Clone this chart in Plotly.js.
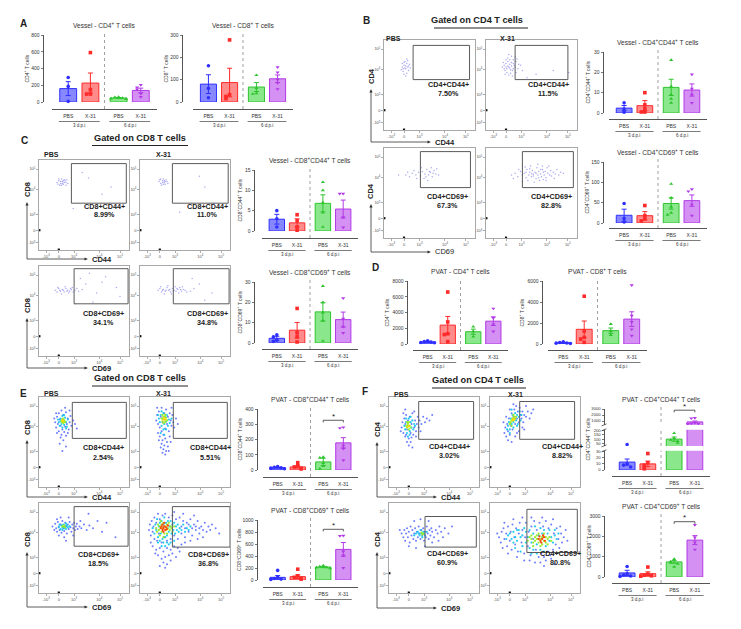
<!DOCTYPE html>
<html><head><meta charset="utf-8">
<script src="https://cdn.plot.ly/plotly-3.0.1.min.js"></script>
<style>html,body{margin:0;padding:0;background:#fff}#chart{width:741px;height:629px}</style>
</head><body><div id="chart"></div>
<script>
// ---------------- DATA ----------------
const GROUP_TICKS = ['PBS','X-31','PBS','X-31'];
const DPI_LABELS = ['3 d.p.i','6 d.p.i'];
const FLOW_TICK_TEXT = ['-10<sup>3</sup>','0','10<sup>3</sup>','10<sup>4</sup>','10<sup>5</sup>'];

// bar charts: mean, SEM and individual animals per group (PBS 3d, X-31 3d, PBS 6d, X-31 6d)
const vesselCD4_mean=[160,226,48,138], vesselCD4_sem=[83,120,6,28];
const vesselCD4_pts=[[293,186,8],[590,147,95,95],[60,55,48,42,35],[205,175,150,100,60]];
const vesselCD8_mean=[80,87,67,104], vesselCD8_sem=[42,64,20,17];
const vesselCD8_pts=[[162,61,19],[278,33,25,15],[120,62,39,36],[156,132,100,85,58]];
const vesselCD4CD44_mean=[2.4,3.6,12.6,11.3], vesselCD4CD44_sem=[1.3,2.5,4,3];
const vesselCD4CD44_pts=[[5,2,0.4],[10,4,2,0.5,0.5],[26,13,9,7,5],[19,12,9,5]];
const vesselCD4CD69_mean=[19,18,48,55], vesselCD4CD69_sem=[15,10,14,14];
const vesselCD4CD69_pts=[[48,11,2.5],[43,18,10,5],[96,62,40,25,20],[83,78,45,18]];
const vesselCD8CD44_mean=[2.9,2.0,6.8,5.4], vesselCD8CD44_sem=[1.2,1,2.1,2.2];
const vesselCD8CD44_pts=[[5,3,1],[4,2.5,1,0.2],[12,10,7,4.5,1],[9.2,9.2,3.4,0.9]];
const vesselCD8CD69_mean=[2.3,6.3,15.3,11.5], vesselCD8CD69_sem=[1,3.8,4.5,3.7];
const vesselCD8CD69_pts=[[4,3,1.4,0.8],[17,5,3,0.5],[28,20,15,11,1],[22,12,8,5]];
const pvatCD4_mean=[260,2400,1560,2900], pvatCD4_sem=[70,1100,330,550];
const pvatCD4_pts=[[400,300,250,200,150],[6600,2800,1300,1200,300],[2200,1600,950],[4500,3300,2500,1600]];
const pvatCD8_mean=[116,1400,1270,2370], pvatCD8_sem=[40,790,250,700];
const pvatCD8_pts=[[200,150,100,80,50],[4550,1230,630,470,160],[1900,1230,850],[5600,2700,2100,1400,800]];
const pvatCD8CD44_mean=[15,20,53,178], pvatCD8CD44_sem=[2.5,7,24,34];
const pvatCD8CD44_pts=[[22,18,15,12,8],[48,28,20,12,7],[85,80,45,25,8],[280,275,160,140,65]];
const pvatCD8CD69_mean=[44,56,216,510], pvatCD8CD69_sem=[30,30,10,115];
const pvatCD8CD69_pts=[[160,45,25,15,10],[180,70,45,25,15],[240,225,212,208,195],[740,735,475,410,200]];
const pvatCD4CD44_mean=[13,10,100,850], pvatCD4CD44_sem=[5,4.5,25,150];
const pvatCD4CD44_pts=[[35,10,8,5],[27,12,8,5,2],[170,110,90,75,55],[1500,1450,700,600,550,500]];
const pvatCD4CD69_mean=[200,165,742,1815], pvatCD4CD69_sem=[130,90,65,220];
const pvatCD4CD69_pts=[[520,160,100,50,30],[490,140,90,60,40],[880,760,700,650,500],[2560,1950,1700,1350]];
const sig_pvatCD8CD44=326, sig_pvatCD8CD69=845, sig_pvatCD4CD44=2800, sig_pvatCD4CD69=2720;

// flow cytometry events (x,y pairs, % of plot width/height on the biexponential display)
const EDGE_EVENTS=[0.4,22, 22,0.4];
const bPbsCD44=[20,70,22,72,24,68,21,65,25,74,23,76,26,70,22,62,27,66,24,71,20,74,25,63,23,69,28,73,21,68,26,77,29,69,24,60,22,75,27,71,19,67,25,79];
const bX31CD44=[18,70,20,72,22,74,24,76,26,73,28,71,30,74,32,70,21,66,23,68,25,70,27,67,29,66,31,72,33,76,22,78,24,80,26,78,28,82,19,75,21,62,23,64,25,61,27,63,35,68,36,73,34,79,30,78,32,81,24,71,26,69,28,75,20,68,22,70,30,68,38,72,40,66,29,60,25,84,33,64,55,62,74,66,91,64,45,58];
const bPbsCD69=[24,70,28,68,31,72,35,70,38,73,40,69,42,74,45,71,47,76,49,70,51,73,53,68,55,75,57,71,44,66,48,64,36,66,33,75,52,78,58,77,26,73,41,78,46,68,50,74,54,72,60,70,16,70];
const bX31CD69=[28,70,32,72,35,68,38,74,40,70,42,72,44,67,45,76,47,70,48,73,50,68,51,75,52,71,54,73,55,66,56,78,57,70,58,74,60,71,61,68,62,76,63,73,64,70,65,74,66,67,67,78,68,72,70,70,71,75,72,69,74,73,76,71,78,76,80,70,82,73,46,64,49,80,53,62,59,64,62,80,43,79,36,76,30,66,40,63,66,64,69,80,75,66,85,72,57,82,48,77,52,69,58,67,63,65,44,73,50,71,55,72,60,76];
const cPbsCD44=[20,75,22,77,24,74,26,76,28,78,30,75,23,72,25,79,27,73,29,77,21,73,24,76,26,74,28,75,31,78,22,79,25,72,27,77,32,74,30,72,55,80,70,62,38,46,62,40,48,86,80,70];
const cX31CD44=[21,76,23,74,25,77,27,75,29,78,24,72,26,79,28,73,22,78,30,76,25,75,27,77,31,74,23,79,26,73,28,76,60,46,66,82,82,52,44,42,72,70];
const cPbsCD69=[18,73,20,71,22,75,24,72,26,74,28,71,30,75,32,73,34,72,36,74,38,71,40,73,42,75,21,76,25,69,29,77,33,70,37,76,23,73,27,73,31,72,35,75,44,72,48,74,46,86,56,92,64,70,74,88,60,60,86,76,52,80,70,82,90,66,40,58];
const cX31CD69=[20,73,22,75,24,71,26,74,28,72,30,76,32,73,34,71,36,75,38,73,40,72,42,74,44,76,46,72,48,74,50,73,52,71,23,77,27,69,31,78,35,69,39,77,43,70,47,77,29,73,33,74,37,72,41,75,45,74,25,73,56,72,60,75,58,86,66,80,80,70,72,62];

const ePbsCD44_outer=[18,72,19,66,20,78,21,70,22,62,22,82,23,75,24,68,25,58,25,85,26,64,27,80,28,61,29,67,30,83,31,70,32,76,33,64,34,72,35,79,36,68,24,55,30,57,20,60,17,76,38,74,29,88,27,52,32,60,19,82,34,85,40,70,42,65,23,48,30,45,26,40];
const ePbsCD44_mid=[22,72,23,68,24,76,25,70,26,66,26,79,27,73,28,69,29,77,30,72,31,67,32,75,24,73,28,80,30,65,21,75];
const ePbsCD44_core=[25,73,26,75,27,71,28,74,29,72,26,72,27,76,28,73];
const ePbsCD44_hot=[27,73,26,74];
const eX31CD44_outer=[18,74,19,80,20,70,21,84,22,66,23,78,24,62,24,88,25,72,26,58,27,82,28,65,29,86,30,70,31,78,32,62,33,82,34,74,35,68,36,80,37,72,22,56,25,52,28,54,24,48,27,46,30,50,26,42,29,40,23,44,31,45,33,56,20,60,38,66,40,76,19,88,35,88,42,70,28,36,25,38,32,40,21,52,34,50];
const eX31CD44_mid=[21,76,22,72,23,80,24,68,25,76,26,82,27,70,28,78,29,73,30,80,31,68,32,75,33,71,24,84,29,64,26,64,23,60,27,58,35,76,20,80];
const eX31CD44_core=[24,76,25,73,26,78,27,75,28,72,29,77,30,74,26,71,25,80,28,80];
const eX31CD44_hot=[26,75,27,77,28,75];
const ePbsCD69_outer=[15,74,17,70,18,77,19,72,20,68,21,79,22,74,23,70,24,76,25,67,26,80,27,72,28,69,29,78,30,74,31,66,32,76,33,71,34,79,35,73,36,68,37,76,38,72,39,78,40,70,41,74,42,77,43,71,45,74,47,72,50,76,53,70,56,75,24,84,33,84,28,62,38,64,20,82,46,80,60,72,70,68,65,80,85,62,30,58,22,64,55,88,75,78];
const ePbsCD69_mid=[22,73,24,71,25,75,26,73,27,76,28,72,29,74,30,71,31,75,32,73,26,70,30,77,34,74,23,76];
const ePbsCD69_core=[27,74,28,75,29,73,26,74];
const ePbsCD69_hot=[];
const eX31CD69_outer=[10,70,11,76,12,64,13,80,14,68,15,74,16,60,16,84,18,78,19,58,20,88,21,66,22,82,24,56,25,86,27,62,28,88,30,58,32,84,34,60,36,86,38,64,40,82,42,60,44,84,46,66,48,80,50,62,52,78,54,68,56,82,58,64,60,76,62,70,64,80,66,66,68,74,70,70,72,78,74,68,76,74,78,70,80,76,46,74,50,72,54,76,58,72,62,74,66,72,14,52,18,48,22,50,26,46,30,50,34,48,38,52,42,50,20,42,24,38,28,40,32,42,36,44,26,34,30,32,22,30,40,40,46,54,50,56,12,56,17,44,44,46,56,58,64,60,70,62,34,36,28,28,84,72,88,66,48,88,60,86,38,90];
const eX31CD69_mid=[14,72,16,66,17,76,18,70,19,82,20,62,21,74,22,78,23,66,24,80,25,60,26,76,27,84,28,62,29,78,30,64,31,80,32,68,33,74,34,80,35,66,36,76,37,70,38,78,39,66,40,74,41,70,42,76,43,68,44,72,46,70,48,76,50,68,52,72,54,70,56,74,22,58,26,56,30,56,34,56,24,52,28,52,32,54,38,58,20,56];
const eX31CD69_core=[18,72,19,68,20,76,21,70,22,74,23,80,24,68,25,72,26,78,27,66,28,74,29,70,30,76,31,72,32,78,33,70,34,74,35,72,36,68,22,64,26,62,30,66,38,74,24,76];
const eX31CD69_hot=[23,72,24,74,25,70,26,72,27,74,28,70,29,73,30,71,25,76,27,78,31,75,26,68];
const fPbsCD44_outer=[14,66,15,72,16,60,17,76,18,56,18,70,19,80,20,64,21,74,22,54,23,78,24,60,25,70,26,82,27,58,28,66,29,74,30,62,31,70,32,78,33,66,20,50,24,50,16,82,28,84,34,74,36,70,38,78,40,72,42,76,22,46,26,44,19,58,25,55,30,56,35,62,13,62,18,86,45,74,48,80];
const fPbsCD44_mid=[17,68,18,64,19,72,20,60,21,68,22,76,23,62,24,72,25,66,26,74,27,64,28,70,19,76,23,58,29,68,21,56,24,78];
const fPbsCD44_core=[19,68,20,66,21,70,22,64,23,68,24,66,22,72,20,72];
const fPbsCD44_hot=[21,67,22,68];
const fX31CD44_outer=[16,60,17,66,18,56,19,70,20,62,21,76,22,58,23,68,24,82,25,64,26,78,27,86,28,70,29,90,30,76,31,84,32,72,33,88,34,80,35,76,36,84,37,72,38,80,40,78,42,84,20,52,24,50,28,56,32,62,36,66,18,78,22,86,26,92,40,90,44,76,46,82,15,72,30,60,38,64,48,86];
const fX31CD44_mid=[19,64,20,68,21,72,22,64,23,76,24,70,25,80,26,72,27,76,28,82,29,74,30,80,31,70,32,78,33,84,34,74,22,60,26,66,30,68,24,86,35,80];
const fX31CD44_core=[22,70,23,72,24,74,25,76,26,74,27,78,28,76,24,68,26,80,29,78];
const fX31CD44_hot=[25,74,26,76,27,75];
const fPbsCD69_outer=[14,66,16,62,17,70,18,58,19,66,20,72,21,62,22,68,23,56,24,74,25,64,26,70,27,60,28,66,29,72,30,58,31,68,32,62,33,74,34,66,35,60,36,70,37,64,38,72,39,58,40,68,41,62,42,74,43,66,44,60,45,70,46,64,47,72,48,68,50,62,52,70,54,66,56,74,58,68,60,62,62,72,22,52,30,50,40,52,48,56,12,70,28,80,44,80,66,66,70,74,35,82,55,58];
const fPbsCD69_mid=[30,66,32,68,34,64,36,66,38,68,40,64,35,70,37,62,33,66,39,66,42,68,28,64];
const fPbsCD69_core=[36,67,37,65,38,66];
const fPbsCD69_hot=[];
const fX31CD69_outer=[10,62,12,56,13,68,14,50,15,72,16,60,18,66,19,52,20,74,22,58,23,68,24,48,25,76,27,62,28,54,29,72,31,46,32,66,33,78,35,56,36,70,38,44,39,62,40,78,42,52,43,68,45,42,46,74,48,60,49,80,51,48,52,70,54,40,55,78,57,44,59,74,60,40,62,80,64,46,65,72,67,42,68,76,70,48,71,66,73,54,74,72,76,60,77,50,79,66,80,56,82,62,78,74,44,36,50,34,56,34,62,36,68,38,38,36,30,40,20,44,16,78,26,82,36,84,46,84,58,84,70,82,84,70,86,58,8,66,60,30,72,32];
const fX31CD69_mid=[18,60,20,64,22,66,24,60,26,68,28,62,30,58,32,70,34,62,36,52,36,64,38,72,40,56,40,68,42,62,44,50,44,70,46,56,48,66,48,48,50,74,52,54,54,64,56,72,56,48,58,66,60,70,62,52,64,66,66,58,66,70,68,62,70,56,72,64,74,60,76,66,52,44,60,46,46,44,28,50,34,46,30,70,26,56,72,70];
const fX31CD69_core=[42,58,44,62,46,60,48,56,50,62,50,58,52,60,54,56,54,66,56,60,58,54,58,62,60,58,62,62,62,56,64,60,66,62,60,66,52,64,56,52,46,64,64,54,68,58,48,52];
const fX31CD69_hot=[54,60,56,58,58,60,60,62,57,56,61,58,55,63,59,64];

// ---------------- LAYOUT HELPERS ----------------
const FONT='Liberation Sans, Arial, Helvetica, sans-serif';
const W=741,H=629;
const px=x=>x/W, py=y=>1-y/H;
const POS=[0,1,2.27,3.27];
const FILL=['rgba(95,95,255,0.75)','rgba(255,110,110,0.8)','rgba(110,225,110,0.8)','rgba(205,125,240,0.85)'];
const EDGE=['#2f2fff','#ff2a2a','#2fc42f','#b23ae6'];
const SYM=['circle','square','triangle-up','triangle-down'];
const layout={width:W,height:H,margin:{l:0,r:0,t:0,b:0},showlegend:false,barmode:'overlay',
  paper_bgcolor:'#fff',plot_bgcolor:'rgba(0,0,0,0)',hovermode:false,
  font:{family:FONT,color:'#222'},shapes:[],annotations:[]};
const traces=[]; let axN=0;
function ann(x,y,text,size,o){layout.annotations.push(Object.assign({xref:'paper',yref:'paper',x:px(x),y:py(y),xanchor:'center',yanchor:'middle',text:text,showarrow:false,font:{size:size,family:FONT,color:'#222'}},o||{}));}
function pairs(a){const xs=[],ys=[];for(let i=0;i<a.length;i+=2){xs.push(a[i]);ys.push(a[i+1]);}return [xs,ys];}
function jitter(vals,range,tf){return vals.map((v,j)=>{let k=0;for(let q=0;q<j;q++)if(Math.abs(tf(vals[q])-tf(v))<0.05*range)k++;return [0,-0.17,0.17,-0.34,0.34,-0.5][Math.min(k,5)];});}

function addBar(c){
  const n=++axN,s=n===1?'':n,xr='x'+s,yr='y'+s,g=c.g;
  const tf=c.tf||(v=>v);
  const ymax=tf(c.ticks[c.ticks.length-1]);
  layout['xaxis'+s]={domain:[px(g.xl),px(g.xr)],range:[-0.73,4.0],anchor:'free',position:py(g.xa),showline:true,linecolor:'#555',linewidth:1,
    tickmode:'array',tickvals:POS,ticktext:GROUP_TICKS,ticks:'outside',ticklen:1.5,tickcolor:'rgba(0,0,0,0)',tickfont:{size:5,color:'#333'},showgrid:false,zeroline:false};
  layout['yaxis'+s]={domain:[py(g.zero),py(g.top)],range:[0,ymax],anchor:'free',position:px(g.yax),showline:true,linecolor:'#555',linewidth:1,
    tickmode:'array',tickvals:c.ticks.map(tf),ticktext:c.ticks.map(String),ticks:'outside',ticklen:2.5,tickwidth:0.8,tickcolor:'#555',
    tickfont:{size:c.tickSize||5,color:'#333'},showgrid:false,zeroline:false};
  for(let i=0;i<4;i++){
    const m=c.mean[i],e=c.sem[i];
    traces.push({type:'bar',x:[POS[i]],y:[tf(m)],width:0.76,xaxis:xr,yaxis:yr,marker:{color:FILL[i],line:{color:EDGE[i],width:1}},
      error_y:{type:'data',symmetric:false,array:[tf(m+e)-tf(m)],arrayminus:[tf(m)-tf(Math.max(0,m-e))],color:EDGE[i],thickness:1,width:2.5}});
    const pts=c.pts[i],off=jitter(pts,ymax,tf);
    traces.push({type:'scatter',mode:'markers',x:pts.map((v,j)=>POS[i]+off[j]),y:pts.map(tf),xaxis:xr,yaxis:yr,cliponaxis:false,
      marker:{symbol:SYM[i],size:3.6,color:EDGE[i]}});
  }
  layout.shapes.push({type:'line',xref:xr,yref:'paper',x0:1.635,x1:1.635,y0:py(g.xa),y1:py(g.top-3),line:{color:'#888',width:0.8,dash:'dot'}});
  [[-0.42,1.42,0.5],[1.85,3.69,2.77]].forEach((u,k)=>{
    layout.shapes.push({type:'line',xref:xr,yref:'paper',x0:u[0],x1:u[1],y0:py(g.xa+12.5),y1:py(g.xa+12.5),line:{color:'#444',width:0.7}});
    layout.annotations.push({xref:xr,yref:'paper',x:u[2],y:py(g.xa+16.5),xanchor:'center',yanchor:'middle',text:DPI_LABELS[k],showarrow:false,font:{size:4.5,family:FONT,color:'#333'}});
  });
  ann((g.xl+g.xr)/2,g.top-10,c.title,6.6,{font:{size:6.6,family:FONT,color:'#333'}});
  ann(g.yax-g.yt,(g.top+g.zero)/2,c.ytitle,5,{textangle:-90,font:{size:5,family:FONT,color:'#333'}});
  if(c.sig!==undefined){
    const ys=tf(c.sig),d=0.035*ymax;
    layout.shapes.push({type:'path',xref:xr,yref:yr,path:`M${POS[2]},${ys-d} L${POS[2]},${ys} L${POS[3]},${ys} L${POS[3]},${ys-d}`,line:{color:'#333',width:0.8}});
    layout.annotations.push({xref:xr,yref:yr,x:(POS[2]+POS[3])/2,y:ys,xanchor:'center',yanchor:'bottom',yshift:-2.5,text:'*',showarrow:false,font:{size:8,family:FONT,color:'#222'}});
  }
  if(c.breaks){
    c.breaks.forEach(b=>{
      layout.shapes.push({type:'rect',xref:'paper',yref:yr,x0:px(g.yax-4),x1:px(g.xr+2),y0:b[0],y1:b[1],fillcolor:'#fff',line:{width:0}});
      [b[0],b[1]].forEach(e=>layout.shapes.push({type:'line',xref:'paper',yref:yr,x0:px(g.yax-2.5),x1:px(g.yax+2.5),y0:e-1,y1:e+1,line:{color:'#444',width:0.8}}));
    });
  }
}

function addFlow(f){
  const n=++axN,s=n===1?'':n,xr='x'+s,yr='y'+s;
  const ax={range:[0,100],showline:true,mirror:true,linecolor:'#a8a8a8',linewidth:1.3,tickmode:'array',tickvals:[8,22,39,67,90],ticktext:FLOW_TICK_TEXT,
    ticks:'outside',ticklen:1.5,tickwidth:0.6,tickcolor:'#777',tickfont:{size:4,color:'#555'},showgrid:false,zeroline:false};
  layout['xaxis'+s]=Object.assign({domain:[px(f.x0),px(f.x0+f.w)],anchor:yr},ax);
  layout['yaxis'+s]=Object.assign({domain:[py(f.y0+f.h),py(f.y0)],anchor:xr},ax);
  const add=(arr,color,size,sym)=>{if(!arr||!arr.length)return;const p=pairs(arr);
    traces.push({type:'scatter',mode:'markers',x:p[0],y:p[1],xaxis:xr,yaxis:yr,cliponaxis:false,marker:{size:size,color:color,symbol:sym||'circle',line:{width:0}}});};
  if(f.sparse){add(f.sparse,'rgba(115,115,235,0.6)',1.5);}
  else{
    add(f.outer,'rgba(45,70,255,0.7)',2.0);
    add(f.mid,'rgba(0,195,235,0.85)',2.2);
    add(f.core,'rgba(150,235,40,0.95)',2.3);
    add(f.hot,f.hotColor||'rgba(255,215,0,1)',2.3);
  }
  add(EDGE_EVENTS,'#111',2.2,'square');
  const gt=f.gate;
  layout.shapes.push({type:'rect',xref:xr,yref:yr,x0:gt[0],x1:gt[1],y0:gt[2],y1:gt[3],line:{color:'#5a5a5a',width:1}});
  ann(f.lx,f.ly,'<b>'+f.l1+'</b>',7.2);
  ann(f.lx,f.ly+9,'<b>'+f.l2+'</b>',7.2);
}

function flowAxes(cx,cy,hx,vy,yl,xl,xbold){
  layout.shapes.push({type:'line',xref:'paper',yref:'paper',x0:px(cx),x1:px(hx-3),y0:py(cy),y1:py(cy),line:{color:'#333',width:0.8}});
  layout.shapes.push({type:'line',xref:'paper',yref:'paper',x0:px(cx),x1:px(cx),y0:py(cy),y1:py(vy+3),line:{color:'#333',width:0.8}});
  layout.shapes.push({type:'path',xref:'paper',yref:'paper',path:`M${px(hx)},${py(cy)} L${px(hx-3.5)},${py(cy-1.6)} L${px(hx-3.5)},${py(cy+1.6)} Z`,fillcolor:'#333',line:{width:0}});
  layout.shapes.push({type:'path',xref:'paper',yref:'paper',path:`M${px(cx)},${py(vy)} L${px(cx-1.6)},${py(vy+3.5)} L${px(cx+1.6)},${py(vy+3.5)} Z`,fillcolor:'#333',line:{width:0}});
  ann(cx,vy-13,'<b>'+yl+'</b>',7.5,{textangle:-90});
  ann(hx+2,cy,xbold===false?xl:'<b>'+xl+'</b>',7.5,{xanchor:'left'});
}

// ---------------- BAR CHARTS ----------------
const Fseg=[[0,30,0,18.3],[30,200,25,39.3],[200,500,39.3,46],[500,3000,46,61]];
const fBreak=v=>{for(const s of Fseg){if(v<=s[1])return s[2]+(Math.max(v,s[0])-s[0])/(s[1]-s[0])*(s[3]-s[2]);}return 61;};
[
 {title:'Vessel - CD4<sup>+</sup> T cells',ytitle:'CD4<sup>+</sup> T cells',ticks:[0,200,400,600,800],mean:vesselCD4_mean,sem:vesselCD4_sem,pts:vesselCD4_pts,g:{xl:52,xr:157,yax:43,top:35,zero:102,xa:109,yt:16}},
 {title:'Vessel - CD8<sup>+</sup> T cells',ytitle:'CD8<sup>+</sup> T cells',ticks:[0,100,200,300],mean:vesselCD8_mean,sem:vesselCD8_sem,pts:vesselCD8_pts,g:{xl:193,xr:293,yax:182,top:35,zero:102,xa:109,yt:16}},
 {title:'Vessel - CD4<sup>+</sup>CD44<sup>+</sup> T cells',ytitle:'CD4<sup>+</sup>CD44<sup>+</sup> T cells',ticks:[0,10,20,30],mean:vesselCD4CD44_mean,sem:vesselCD4CD44_sem,pts:vesselCD4CD44_pts,g:{xl:609,xr:707,yax:603,top:52,zero:113,xa:119,yt:16}},
 {title:'Vessel - CD4<sup>+</sup>CD69<sup>+</sup> T cells',ytitle:'CD4<sup>+</sup>CD69<sup>+</sup> T cells',ticks:[0,50,100,150],mean:vesselCD4CD69_mean,sem:vesselCD4CD69_sem,pts:vesselCD4CD69_pts,g:{xl:609,xr:707,yax:603,top:162,zero:223,xa:228,yt:17}},
 {title:'Vessel - CD8<sup>+</sup>CD44<sup>+</sup> T cells',ytitle:'CD8<sup>+</sup>CD44<sup>+</sup> T cells',ticks:[0,5,10,15],mean:vesselCD8CD44_mean,sem:vesselCD8CD44_sem,pts:vesselCD8CD44_pts,g:{xl:262,xr:358,yax:254,top:170,zero:231,xa:238,yt:15}},
 {title:'Vessel - CD8<sup>+</sup>CD69<sup>+</sup> T cells',ytitle:'CD8<sup>+</sup>CD69<sup>+</sup> T cells',ticks:[0,10,20,30],mean:vesselCD8CD69_mean,sem:vesselCD8CD69_sem,pts:vesselCD8CD69_pts,g:{xl:262,xr:358,yax:254,top:282,zero:343,xa:349,yt:15}},
 {title:'PVAT - CD4<sup>+</sup> T cells',ytitle:'CD4<sup>+</sup> T cells',ticks:[0,2000,4000,6000,8000],mean:pvatCD4_mean,sem:pvatCD4_sem,pts:pvatCD4_pts,g:{xl:413,xr:508,yax:407,top:281,zero:344,xa:350,yt:21}},
 {title:'PVAT - CD8<sup>+</sup> T cells',ytitle:'CD8<sup>+</sup> T cells',ticks:[0,2000,4000,6000],mean:pvatCD8_mean,sem:pvatCD8_sem,pts:pvatCD8_pts,g:{xl:548,xr:647,yax:542,top:281,zero:344,xa:350,yt:21}},
 {title:'PVAT - CD8<sup>+</sup>CD44<sup>+</sup> T cells',ytitle:'CD8<sup>+</sup>CD44<sup>+</sup> T cells',ticks:[0,100,200,300,400],mean:pvatCD8CD44_mean,sem:pvatCD8CD44_sem,pts:pvatCD8CD44_pts,sig:sig_pvatCD8CD44,g:{xl:263,xr:358,yax:257,top:409,zero:470,xa:477,yt:18}},
 {title:'PVAT - CD8<sup>+</sup>CD69<sup>+</sup> T cells',ytitle:'CD8<sup>+</sup>CD69<sup>+</sup> T cells',ticks:[0,200,400,600,800,1000],mean:pvatCD8CD69_mean,sem:pvatCD8CD69_sem,pts:pvatCD8CD69_pts,sig:sig_pvatCD8CD69,g:{xl:263,xr:358,yax:257,top:520,zero:580,xa:587,yt:18}},
 {title:'PVAT - CD4<sup>+</sup>CD44<sup>+</sup> T cells',ytitle:'CD4<sup>+</sup>CD44<sup>+</sup> T cells',ticks:[0,10,20,30,50,100,150,200,1000,2000,3000],tickSize:4.2,tf:fBreak,breaks:[[19.2,24.1],[40.2,45.1]],mean:pvatCD4CD44_mean,sem:pvatCD4CD44_sem,pts:pvatCD4CD44_pts,sig:sig_pvatCD4CD44,g:{xl:612,xr:710,yax:604,top:409,zero:470,xa:476,yt:17}},
 {title:'PVAT - CD4<sup>+</sup>CD69<sup>+</sup> T cells',ytitle:'CD4<sup>+</sup>CD69<sup>+</sup> T cells',ticks:[0,1000,2000,3000],mean:pvatCD4CD69_mean,sem:pvatCD4CD69_sem,pts:pvatCD4CD69_pts,sig:sig_pvatCD4CD69,g:{xl:612,xr:710,yax:604,top:516,zero:577,xa:583,yt:16}}
].forEach(addBar);

// ---------------- FLOW PLOTS ----------------
const RED_HOT='rgba(255,70,0,1)';
[
 {x0:384,y0:40,w:91,h:90,sparse:bPbsCD44,gate:[32,94,56,94],l1:'CD4+CD44+',l2:'7.50%',lx:448,ly:85},
 {x0:486,y0:40,w:91,h:90,sparse:bX31CD44,gate:[32,90,56,94],l1:'CD4+CD44+',l2:'11.5%',lx:548,ly:85},
 {x0:384,y0:148,w:91,h:90,sparse:bPbsCD69,gate:[40,95,56,96],l1:'CD4+CD69+',l2:'67.3%',lx:447,ly:196},
 {x0:486,y0:148,w:91,h:90,sparse:bX31CD69,gate:[40,96,56,96],l1:'CD4+CD69+',l2:'82.8%',lx:551,ly:196},
 {x0:39,y0:160,w:90,h:90,sparse:cPbsCD44,gate:[36,97,52,96],l1:'CD8+CD44+',l2:'8.99%',lx:104,ly:206},
 {x0:140,y0:160,w:90,h:90,sparse:cX31CD44,gate:[36,98,52,96],l1:'CD8+CD44+',l2:'11.0%',lx:207,ly:206},
 {x0:39,y0:266,w:90,h:90,sparse:cPbsCD69,gate:[39,99,58,97],l1:'CD8+CD69+',l2:'34.1%',lx:103,ly:313},
 {x0:140,y0:266,w:90,h:90,sparse:cX31CD69,gate:[37,99,58,97],l1:'CD8+CD69+',l2:'34.8%',lx:207,ly:313},
 {x0:39,y0:397,w:90,h:90,outer:ePbsCD44_outer,mid:ePbsCD44_mid,core:ePbsCD44_core,hot:ePbsCD44_hot,gate:[37,97,54,94],l1:'CD8+CD44+',l2:'2.54%',lx:103,ly:448},
 {x0:140,y0:397,w:90,h:90,outer:eX31CD44_outer,mid:eX31CD44_mid,core:eX31CD44_core,hot:eX31CD44_hot,gate:[37,97,54,94],l1:'CD8+CD44+',l2:'5.51%',lx:210,ly:448},
 {x0:39,y0:503,w:90,h:90,outer:ePbsCD69_outer,mid:ePbsCD69_mid,core:ePbsCD69_core,hot:ePbsCD69_hot,gate:[39,99,52,96],l1:'CD8+CD69+',l2:'18.5%',lx:98,ly:554},
 {x0:140,y0:503,w:90,h:90,outer:eX31CD69_outer,mid:eX31CD69_mid,core:eX31CD69_core,hot:eX31CD69_hot,hotColor:RED_HOT,gate:[36,100,51,96],l1:'CD8+CD69+',l2:'36.8%',lx:208,ly:554},
 {x0:389,y0:397,w:90,h:90,outer:fPbsCD44_outer,mid:fPbsCD44_mid,core:fPbsCD44_core,hot:fPbsCD44_hot,gate:[33,94,53,95],l1:'CD4+CD44+',l2:'3.02%',lx:450,ly:446},
 {x0:490,y0:397,w:90,h:90,outer:fX31CD44_outer,mid:fX31CD44_mid,core:fX31CD44_core,hot:fX31CD44_hot,gate:[33,94,53,95],l1:'CD4+CD44+',l2:'8.82%',lx:562,ly:446},
 {x0:389,y0:503,w:90,h:90,outer:fPbsCD69_outer,mid:fPbsCD69_mid,core:fPbsCD69_core,hot:fPbsCD69_hot,gate:[40,97,51,85],l1:'CD4+CD69+',l2:'60.9%',lx:447,ly:553},
 {x0:490,y0:503,w:90,h:90,outer:fX31CD69_outer,mid:fX31CD69_mid,core:fX31CD69_core,hot:fX31CD69_hot,hotColor:RED_HOT,gate:[41,97,45,93],l1:'CD4+CD69+',l2:'80.8%',lx:560,ly:553}
].forEach(addFlow);

flowAxes(371,142,431,89,'CD4','CD44');
flowAxes(371,252,431,204,'CD4','CD69',false);
flowAxes(27,259,88,202,'CD8','CD44');
flowAxes(27,368,88,318,'CD8','CD69');
flowAxes(27,497,88,440,'CD8','CD44');
flowAxes(27,607,88,552,'CD8','CD69');
flowAxes(377,497,437,442,'CD4','CD44');
flowAxes(377,608,437,552,'CD4','CD69');

// headers, panel letters, column labels
[['A',23,24],['B',366,21],['C',24,140],['D',375,267],['E',23,393],['F',365,391]].forEach(l=>ann(l[1],l[2],'<b>'+l[0]+'</b>',10));
[['Gated on CD4 T cells',477,20,28,434,528],['Gated on CD8 T cells',140,138,145.5,92,188],['Gated on CD8 T cells',140,378,386,92,188],['Gated on CD4 T cells',478,380,388,432,526]].forEach(h=>{
  ann(h[1],h[2],'<b>'+h[0]+'</b>',9.2);
  layout.shapes.push({type:'line',xref:'paper',yref:'paper',x0:px(h[4]),x1:px(h[5]),y0:py(h[3]),y1:py(h[3]),line:{color:'#222',width:1}});
});
[[384,38],[42,155],[42,393],[392,394]].forEach(p=>ann(p[0],p[1],'<b>PBS</b>',7,{xanchor:'left'}));
[[498,38],[154,155],[154,393],[506,394]].forEach(p=>ann(p[0],p[1],'<b>X-31</b>',7,{xanchor:'left'}));

Plotly.newPlot('chart',traces,layout,{staticPlot:true,displayModeBar:false});
</script></body></html>
